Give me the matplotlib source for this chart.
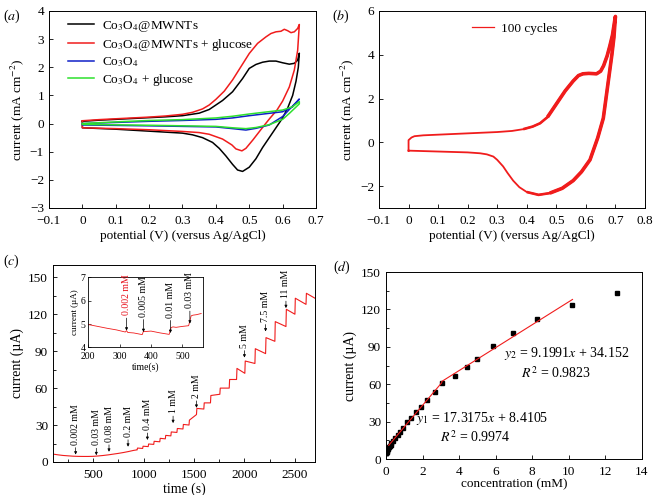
import numpy as np
import matplotlib
matplotlib.use("Agg")
import matplotlib.pyplot as plt
from matplotlib.ticker import MultipleLocator

plt.rcParams['font.family'] = ['Liberation Serif', 'DejaVu Serif']
plt.rcParams['mathtext.fontset'] = 'stix'
plt.rcParams['font.size'] = 9

# ---------------------------------------------------------------
# (a) CV curves: forward and reverse scans, (potential V, current mA cm-2)
# ---------------------------------------------------------------
a_black_fwd_v = [0.0, 0.05, 0.1, 0.15, 0.2, 0.25, 0.3, 0.35, 0.38, 0.4, 0.42, 0.45, 0.48, 0.5,
                 0.52, 0.54, 0.56, 0.58, 0.6, 0.62, 0.635, 0.645, 0.65]
a_black_fwd_i = [0.08, 0.12, 0.15, 0.18, 0.21, 0.24, 0.28, 0.37, 0.5, 0.66, 0.82, 1.13, 1.6, 1.96,
                 2.1, 2.18, 2.22, 2.22, 2.16, 2.11, 2.14, 2.25, 2.5]
a_black_rev_v = [0.65, 0.647, 0.64, 0.63, 0.615, 0.6, 0.58, 0.56, 0.54, 0.52, 0.5, 0.48, 0.465,
                 0.45, 0.43, 0.41, 0.39, 0.36, 0.33, 0.3, 0.2, 0.1, 0.0, 0.0]
a_black_rev_i = [2.5, 2.0, 1.5, 1.0, 0.55, 0.2, -0.15, -0.5, -0.85, -1.25, -1.55, -1.7, -1.65,
                 -1.45, -1.15, -0.88, -0.67, -0.5, -0.4, -0.34, -0.27, -0.2, -0.15, 0.08]

a_red_fwd_v = [0.0, 0.05, 0.1, 0.15, 0.2, 0.25, 0.3, 0.33, 0.36, 0.38, 0.4, 0.425, 0.45, 0.475,
               0.5, 0.525, 0.55, 0.565, 0.58, 0.595, 0.605, 0.615, 0.625, 0.635, 0.645, 0.65]
a_red_fwd_i = [0.1, 0.14, 0.17, 0.2, 0.23, 0.27, 0.33, 0.4, 0.52, 0.66, 0.86, 1.15, 1.55, 2.02,
               2.49, 2.85, 3.08, 3.2, 3.26, 3.28, 3.35, 3.3, 3.23, 3.26, 3.38, 3.52]
a_red_rev_v = [0.65, 0.645, 0.635, 0.62, 0.6, 0.583, 0.562, 0.541, 0.511, 0.49, 0.478, 0.46,
               0.448, 0.42, 0.38, 0.35, 0.3, 0.2, 0.1, 0.0, 0.0]
a_red_rev_i = [3.52, 2.6, 1.9, 1.3, 0.8, 0.48, 0.19, -0.12, -0.58, -0.88, -0.97, -0.9,
               -0.76, -0.55, -0.38, -0.32, -0.28, -0.22, -0.18, -0.15, 0.1]

a_blue_fwd_v = [0.0, 0.1, 0.2, 0.3, 0.4, 0.45, 0.5, 0.55, 0.6, 0.63, 0.65]
a_blue_fwd_i = [0.0, 0.04, 0.08, 0.11, 0.15, 0.2, 0.28, 0.35, 0.42, 0.6, 0.87]
a_blue_rev_v = [0.65, 0.62, 0.6, 0.56, 0.52, 0.49, 0.45, 0.4, 0.3, 0.2, 0.0, 0.0]
a_blue_rev_i = [0.87, 0.5, 0.25, -0.05, -0.17, -0.23, -0.18, -0.12, -0.1, -0.08, -0.05, 0.0]

a_green_fwd_v = [0.0, 0.1, 0.2, 0.3, 0.4, 0.45, 0.5, 0.55, 0.6, 0.63, 0.65]
a_green_fwd_i = [0.0, 0.06, 0.11, 0.14, 0.2, 0.26, 0.34, 0.41, 0.48, 0.6, 0.78]
a_green_rev_v = [0.65, 0.62, 0.6, 0.56, 0.52, 0.49, 0.45, 0.4, 0.3, 0.2, 0.0, 0.0]
a_green_rev_i = [0.7, 0.36, 0.15, -0.04, -0.14, -0.18, -0.15, -0.1, -0.08, -0.06, -0.03, 0.0]

# ---------------------------------------------------------------
# (b) 100 cycles CV
# ---------------------------------------------------------------
b_fwd_v = [0.0, 0.0, 0.01, 0.02, 0.05, 0.1, 0.15, 0.2, 0.25, 0.3, 0.35, 0.388, 0.42, 0.445,
           0.47, 0.5, 0.53, 0.557, 0.575, 0.59, 0.61, 0.636, 0.65, 0.66, 0.672, 0.681, 0.69,
           0.698, 0.7]
b_fwd_i = [-0.38, 0.1, 0.22, 0.28, 0.32, 0.35, 0.38, 0.41, 0.44, 0.47, 0.52, 0.6, 0.72, 0.87,
           1.15, 1.75, 2.35, 2.8, 3.05, 3.13, 3.15, 3.13, 3.25, 3.5, 3.95, 4.4, 4.9, 5.6, 5.75]
b_rev_v = [0.7, 0.695, 0.688, 0.68, 0.67, 0.659, 0.64, 0.614, 0.585, 0.557, 0.52, 0.478, 0.44,
           0.4, 0.375, 0.354, 0.335, 0.32, 0.3, 0.287, 0.265, 0.242, 0.2, 0.15, 0.1, 0.05, 0.0]
b_rev_i = [5.75, 4.8, 4.0, 3.2, 2.2, 1.1, 0.2, -0.8, -1.35, -1.75, -2.1, -2.32, -2.4,
           -2.27, -2.05, -1.75, -1.4, -1.1, -0.8, -0.65, -0.55, -0.5, -0.46, -0.44, -0.42,
           -0.4, -0.38]

# ---------------------------------------------------------------
# (c) amperometric response (time s, current uA)
# ---------------------------------------------------------------
c_early_t = [100, 150, 200, 250, 300, 350, 400, 450, 500, 550, 600, 650, 700, 750, 800, 850,
             900, 930]
c_early_i = [6.4, 5.8, 5.3, 5.0, 4.7, 4.55, 4.5, 4.5, 4.6, 4.9, 5.3, 5.8, 6.4, 7.0, 7.7, 8.5,
             9.4, 9.8]
c_step_t = [935, 990, 1045, 1100, 1160, 1215, 1270, 1330, 1390, 1450, 1524, 1597, 1663, 1756,
            1849, 1922, 2004, 2104, 2210, 2302, 2412, 2501, 2611]
c_step_lo = [9.8, 11.0, 12.5, 14.3, 16.4, 18.8, 21.2, 24.0, 26.8, 30.0, 38.5, 43, 48, 55, 60,
             67, 72, 80, 88, 98, 110, 120, 128]
c_step_hi = [11.3, 12.8, 14.6, 16.8, 19.2, 21.6, 24.4, 27.2, 30.5, 34.0, 43.5, 48, 54, 60, 67,
             76, 82, 92, 101, 114, 124, 133, 137]
c_end_t = 2700
c_end_i = 133

c_arrow_labels = ['0.002 mM', '0.03 mM', '0.08 mM', '0.2 mM', '0.4 mM', '1 mM', '2 mM',
                  '5 mM', '7.5 mM', '11 mM']
c_arrow_t = [325, 530, 656, 845, 1037, 1292, 1524, 2000, 2210, 2412]
c_arrow_tip = [6.0, 5.5, 8.3, 12.4, 17.9, 31.6, 44, 84.8, 106, 125]

# inset
ins_t = [200, 230, 260, 290, 318, 322, 326, 345, 372, 376, 380, 400, 430, 458, 464, 470,
         480, 500, 520, 528, 534, 545, 560]
ins_i = [4.98, 4.9, 4.82, 4.75, 4.66, 4.72, 4.64, 4.62, 4.55, 4.7, 4.68, 4.7, 4.62, 4.56,
         4.85, 4.88, 4.86, 4.9, 4.93, 5.35, 5.38, 5.4, 5.45]
ins_labels = ['0.002 mM', '0.005 mM', '0.01 mM', '0.03 mM']
ins_label_colors = ['#e8101a', 'black', 'black', 'black']
ins_arrow_t = [322, 376, 462, 524]
ins_arrow_tip = [4.72, 4.66, 4.62, 5.02]

# ---------------------------------------------------------------
# (d) calibration (concentration mM, current uA)
# ---------------------------------------------------------------
d_conc = [0.002, 0.005, 0.01, 0.02, 0.03, 0.05, 0.08, 0.1, 0.13, 0.16, 0.2, 0.25, 0.3, 0.4,
          0.5, 0.67, 0.77, 0.92, 1.13, 1.37, 1.64, 1.9, 2.23, 2.68, 3.05, 3.8, 4.45, 4.96,
          5.84, 6.92, 8.28, 10.2, 12.63]
d_current = [4.7, 4.8, 5.0, 5.3, 5.6, 6.2, 7.0, 7.8, 8.6, 9.4, 10.5, 11.6, 12.6, 14.6, 16.5,
             19.6, 21.5, 24.5, 29.5, 32.8, 38.1, 42.0, 47.0, 53.8, 61.0, 66.9, 74.1, 80.5,
             90.6, 100.7, 112.7, 123.4, 133.2]
fit1_slope, fit1_icpt, fit1_range = 17.3175, 8.4105, (0.15, 3.05)
fit2_slope, fit2_icpt, fit2_range = 9.1991, 34.152, (3.05, 10.2)

RED = '#f01c1c'
TICK_FS = 9.5
LABEL_FS = 9.5


def style_axes(ax):
    ax.tick_params(direction='in', which='both', length=3, width=0.6, labelsize=TICK_FS)
    ax.tick_params(which='minor', length=2)
    ax.tick_params(axis='x', pad=5)
    for s in ax.spines.values():
        s.set_linewidth(0.7)


fig = plt.figure(figsize=(6.54, 4.95), dpi=100)

# ---------------- (a) ----------------
ax_a = fig.add_axes([0.0749, 0.5798, 0.4083, 0.398])
curves = [
    (a_black_fwd_v, a_black_fwd_i, a_black_rev_v, a_black_rev_i, 'black',
     'Co$_3$O$_4$@MWNTs'),
    (a_red_fwd_v, a_red_fwd_i, a_red_rev_v, a_red_rev_i, RED,
     'Co$_3$O$_4$@MWNTs + glucose'),
    (a_blue_fwd_v, a_blue_fwd_i, a_blue_rev_v, a_blue_rev_i, '#1020c8', 'Co$_3$O$_4$'),
    (a_green_fwd_v, a_green_fwd_i, a_green_rev_v, a_green_rev_i, '#2ee02e',
     'Co$_3$O$_4$ + glucose'),
]
for fv, fi, rv, ri, col, lab in curves:
    ax_a.plot(list(fv) + list(rv), list(fi) + list(ri), color=col, lw=1.1, label=lab)
ax_a.set_xlim(-0.1, 0.7)
ax_a.set_ylim(-3, 4)
ax_a.set_xticks(np.arange(-0.1, 0.71, 0.1))
ax_a.set_xticklabels(['\u22120.1', '0', '0.1', '0.2', '0.3', '0.4', '0.5', '0.6', '0.7'])
ax_a.set_yticks(range(-3, 5))
ax_a.set_xlabel('potential (V) (versus Ag/AgCl)', fontsize=LABEL_FS, labelpad=2)
ax_a.set_ylabel('current (mA cm$^{-2}$)', fontsize=LABEL_FS, labelpad=3)
ax_a.legend(loc='upper left', frameon=False, fontsize=9.5, handlelength=2.0,
            handletextpad=0.6, labelspacing=0.2, borderaxespad=0.2,
            bbox_to_anchor=(0.04, 1.0))
style_axes(ax_a)
fig.text(0.004, 0.985, '($\\mathit{a}$)', fontsize=10, va='top')

# ---------------- (b) ----------------
ax_b = fig.add_axes([0.5795, 0.5798, 0.4067, 0.398])
b_v = list(b_fwd_v) + list(b_rev_v)
b_i = list(b_fwd_i) + list(b_rev_i)
ax_b.plot(b_v, b_i, color=RED, lw=1.3, label='100 cycles')
# the right part of the loop is smeared by the cycling: draw it heavier in tiers
for v_min, width in [(0.38, 1.9), (0.47, 2.6)]:
    idx = [k for k in range(len(b_v)) if b_v[k] >= v_min]
    ax_b.plot([b_v[k] for k in idx], [b_i[k] for k in idx], color=RED, lw=width,
              solid_joinstyle='round', solid_capstyle='butt')
ax_b.set_xlim(-0.1, 0.8)
ax_b.set_ylim(-3, 6)
ax_b.set_xticks(np.arange(-0.1, 0.81, 0.1))
ax_b.set_xticklabels(['\u22120.1', '0', '0.1', '0.2', '0.3', '0.4', '0.5', '0.6', '0.7', '0.8'])
ax_b.set_yticks([-2, 0, 2, 4, 6])
ax_b.set_yticklabels(['\u22122', '0', '2', '4', '6'])
ax_b.set_xlabel('potential (V) (versus Ag/AgCl)', fontsize=LABEL_FS, labelpad=2)
ax_b.set_ylabel('current (mA cm$^{-2}$)', fontsize=LABEL_FS, labelpad=3)
leg = ax_b.legend(loc='upper center', frameon=False, fontsize=9.5, handlelength=1.7,
                  handletextpad=0.5, bbox_to_anchor=(0.51, 1.0))
for h in leg.get_lines():
    h.set_linewidth(0.9)
style_axes(ax_b)
fig.text(0.508, 0.985, '($\\mathit{b}$)', fontsize=10, va='top')

# ---------------- (c) ----------------
ax_c = fig.add_axes([0.081, 0.0667, 0.4006, 0.398])
trace_t = list(c_early_t)
trace_i = list(c_early_i)
for k in range(len(c_step_t)):
    trace_t += [c_step_t[k], c_step_t[k] + 4]
    trace_i += [c_step_lo[k], c_step_hi[k]]
trace_t.append(c_end_t)
trace_i.append(c_end_i)
ax_c.plot(trace_t, trace_i, color=RED, lw=0.8)
for lab, t, tip in zip(c_arrow_labels, c_arrow_t, c_arrow_tip):
    ax_c.annotate(lab, xy=(t, tip), xytext=(0, 7), textcoords='offset points',
                  rotation=90, ha='center', va='bottom', fontsize=7,
                  arrowprops=dict(arrowstyle='-|>', color='black', lw=0.5,
                                  mutation_scale=4, shrinkA=0, shrinkB=0))
ax_c.set_xlim(100, 2700)
ax_c.set_ylim(0, 160)
ax_c.xaxis.set_major_locator(MultipleLocator(500))
ax_c.xaxis.set_minor_locator(MultipleLocator(250))
ax_c.yaxis.set_major_locator(MultipleLocator(30))
ax_c.yaxis.set_minor_locator(MultipleLocator(15))
ax_c.set_xlabel('time (s)', fontsize=LABEL_FS + 0.5, labelpad=1)
ax_c.set_ylabel('current (\u00b5A)', fontsize=LABEL_FS + 0.5, labelpad=3)
style_axes(ax_c)
fig.text(0.004, 0.49, '($\\mathit{c}$)', fontsize=10, va='top')

ax_in = fig.add_axes([0.135, 0.298, 0.175, 0.142])
ax_in.plot(ins_t, ins_i, color=RED, lw=0.6)
for lab, col, t, tip in zip(ins_labels, ins_label_colors, ins_arrow_t, ins_arrow_tip):
    ax_in.annotate(lab, xy=(t, tip), xytext=(0, 11), textcoords='offset points',
                   rotation=90, ha='center', va='bottom', fontsize=7, color=col,
                   arrowprops=dict(arrowstyle='-|>', color='black', lw=0.5,
                                   mutation_scale=4, shrinkA=0, shrinkB=0))
ax_in.set_xlim(200, 565)
ax_in.set_ylim(4, 7)
ax_in.set_xticks([200, 300, 400, 500])
ax_in.set_yticks([4, 5, 6, 7])
ax_in.tick_params(direction='in', length=2, width=0.5, labelsize=7, pad=2)
ax_in.tick_params(axis='x', pad=3)
for s in ax_in.spines.values():
    s.set_linewidth(0.6)
ax_in.set_xlabel('time(s)', fontsize=7, labelpad=1)
ax_in.set_ylabel('current (\u00b5A)', fontsize=6.5, labelpad=1)

# ---------------- (d) ----------------
ax_d = fig.add_axes([0.5902, 0.0727, 0.3914, 0.3778])
ax_d.plot(d_conc, d_current, 's', color='black', ms=3.2)
ax_d.plot(fit1_range, [fit1_slope * x + fit1_icpt for x in fit1_range], color=RED, lw=0.8)
ax_d.plot(fit2_range, [fit2_slope * x + fit2_icpt for x in fit2_range], color=RED, lw=0.8)
ax_d.text(9.9, 84.8, '$y_2$ = 9.1991$x$ + 34.152', fontsize=10, ha='center', va='center')
ax_d.text(9.3, 68.8, '$R^2$ = 0.9823', fontsize=10, ha='center', va='center')
ax_d.text(5.25, 32.8, '$y_1$ = 17.3175$x$ + 8.4105', fontsize=10, ha='center', va='center')
ax_d.text(4.9, 17.6, '$R^2$ = 0.9974', fontsize=10, ha='center', va='center')
ax_d.set_xlim(0, 14)
ax_d.set_ylim(0, 150)
ax_d.xaxis.set_major_locator(MultipleLocator(2))
ax_d.yaxis.set_major_locator(MultipleLocator(30))
ax_d.yaxis.set_minor_locator(MultipleLocator(15))
ax_d.set_xlabel('concentration (mM)', fontsize=LABEL_FS, labelpad=0)
ax_d.set_ylabel('current (\u00b5A)', fontsize=LABEL_FS + 0.5, labelpad=3)
style_axes(ax_d)
fig.text(0.509, 0.478, '($\\mathit{d}$)', fontsize=10, va='top')

fig.savefig('out.png', dpi=100)
